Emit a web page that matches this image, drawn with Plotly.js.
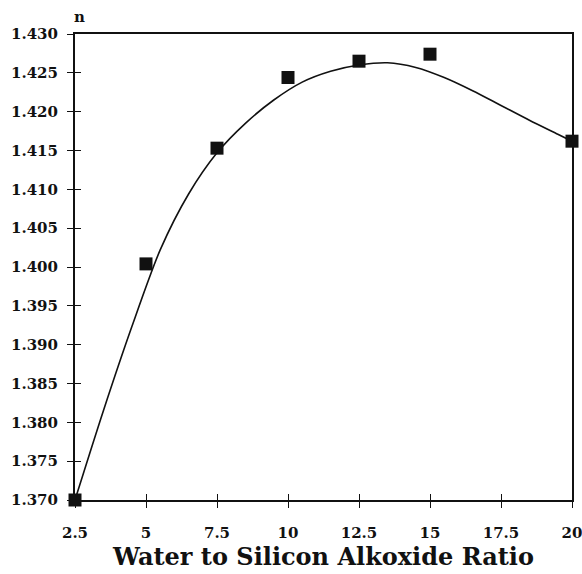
<!DOCTYPE html>
<html>
<head>
<meta charset="utf-8">
<script src="https://cdn.plot.ly/plotly-3.0.1.min.js"></script>
<style>html,body{margin:0;padding:0;background:#fff;}#chart{width:582px;height:574px;}</style>
</head>
<body>
<div id="chart"></div>
<script>
// Measured data points (water : silicon alkoxide ratio vs refractive index n)
var ratio = [2.5, 5, 7.5, 10, 12.5, 15, 20];
var refIndex = [1.3700, 1.4004, 1.4153, 1.4244, 1.4265, 1.4274, 1.4162];

// Smooth fitted curve
var fitRatio = [2.5, 3.5, 4.5, 5.5, 6.5, 7.5, 8.5, 9.5, 10.5, 11.5, 12.5, 13.5, 14.5, 15.5, 16.5, 17.5, 18.5, 19.5, 20];
var fitIndex = [1.3700, 1.3815, 1.3923, 1.4022, 1.4094, 1.4147, 1.4185, 1.4215, 1.4238, 1.4252, 1.4260, 1.4263, 1.4257, 1.4244, 1.4227, 1.4208, 1.4189, 1.4171, 1.4162];

var xTickVals = [2.5, 5, 7.5, 10, 12.5, 15, 17.5, 20];
var xTickText = ['2.5', '5', '7.5', '10', '12.5', '15', '17.5', '20'];
var yTickVals = [1.370, 1.375, 1.380, 1.385, 1.390, 1.395, 1.400, 1.405, 1.410, 1.415, 1.420, 1.425, 1.430];
var yTickText = ['1.370', '1.375', '1.380', '1.385', '1.390', '1.395', '1.400', '1.405', '1.410', '1.415', '1.420', '1.425', '1.430'];

var xRange = [2.5, 20];
var yRange = [1.370, 1.430];
var tickFont = {family: 'DejaVu Serif', size: 15, color: '#111', weight: 'bold'};

var traces = [
  {x: fitRatio, y: fitIndex, mode: 'lines', type: 'scatter', xaxis: 'x2', yaxis: 'y2',
   line: {color: '#111', width: 1.6, shape: 'spline', smoothing: 0.8}, hoverinfo: 'skip', showlegend: false},
  {x: ratio, y: refIndex, mode: 'markers', type: 'scatter',
   marker: {symbol: 'square', size: 13, color: '#111'}, cliponaxis: false, showlegend: false}
];

var layout = {
  width: 582, height: 574,
  margin: {l: 75, r: 10, t: 34, b: 74},
  paper_bgcolor: '#fff', plot_bgcolor: '#fff',
  showlegend: false,
  xaxis: {range: xRange, tickvals: xTickVals, ticktext: xTickText, ticks: 'outside', ticklen: 6,
          tickwidth: 1, tickcolor: '#111', showline: true, linecolor: '#111', linewidth: 2, mirror: true,
          showgrid: false, zeroline: false, tickfont: tickFont, ticklabelstandoff: 12,
          ticklabeloverflow: 'allow',
          title: {text: 'Water to Silicon Alkoxide Ratio', font: {family: 'DejaVu Serif', size: 24, color: '#111', weight: 'bold'}, standoff: 0}},
  yaxis: {range: yRange, tickvals: yTickVals, ticktext: yTickText, ticks: 'outside', ticklen: 6,
          tickwidth: 1, tickcolor: '#111', showline: true, linecolor: '#111', linewidth: 2, mirror: true,
          showgrid: false, zeroline: false, tickfont: tickFont, ticklabelstandoff: 6, ticklabeloverflow: 'allow'},
  xaxis2: {range: xRange, overlaying: 'x', tickvals: xTickVals, ticks: 'inside', ticklen: 6, tickwidth: 1,
           tickcolor: '#111', showticklabels: false, showline: false, showgrid: false, zeroline: false},
  yaxis2: {range: yRange, overlaying: 'y', tickvals: yTickVals, ticks: 'inside', ticklen: 6, tickwidth: 1,
           tickcolor: '#111', showticklabels: false, showline: false, showgrid: false, zeroline: false, side: 'left'},
  annotations: [{text: 'n', xref: 'paper', yref: 'paper', x: 0, y: 1, xanchor: 'center', yanchor: 'middle',
                 xshift: 4, yshift: 17, showarrow: false,
                 font: {family: 'DejaVu Serif', size: 15, color: '#111', weight: 'bold'}}]
};

Plotly.newPlot('chart', traces, layout, {displayModeBar: false, staticPlot: true});
</script>
</body>
</html>
